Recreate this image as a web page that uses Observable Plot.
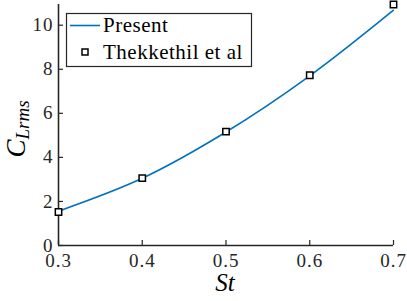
<!DOCTYPE html>
<html>
<head>
<meta charset="utf-8">
<script src="https://cdn.jsdelivr.net/npm/d3@7"></script>
<script src="https://cdn.jsdelivr.net/npm/@observablehq/plot@0.6"></script>
<style>
  html, body { margin: 0; padding: 0; background: #fff; }
  #chart svg { display: block; }
  #chart svg text { font-family: "Liberation Serif", "DejaVu Serif", serif; }
  #chart svg [aria-label="x-axis tick label"] text,
  #chart svg [aria-label="y-axis tick label"] text { letter-spacing: 1px; }
</style>
</head>
<body>
<div id="chart"></div>
<script>
// Data
const st = [0.3, 0.4, 0.5, 0.6, 0.7];
const present = [1.56, 3.05, 5.15, 7.7, 10.68];
const thekkethil = [1.52, 3.06, 5.17, 7.73, 10.94];
const xTicks = [0.3, 0.4, 0.5, 0.6, 0.7];
const yTicks = [0, 2, 4, 6, 8, 10];
const seriesNames = ["Present", "Thekkethil et al"];

const presentData = st.map((x, i) => ({x, y: present[i]}));
const refData = st.map((x, i) => ({x, y: thekkethil[i]}));

const font = "Liberation Serif";
const ink = "#262626";

const plot = Plot.plot({
  width: 407,
  height: 301,
  marginLeft: 58,
  marginRight: 14,
  marginTop: 4,
  marginBottom: 56,
  style: {fontFamily: font, fontSize: "19px", color: ink, background: "#fff"},
  x: {domain: [0.3, 0.7], ticks: xTicks, label: null},
  y: {domain: [0, 10.94], ticks: yTicks, label: null},
  marks: [
    Plot.axisX({ticks: xTicks, tickSize: -5, tickPadding: 13, tickFormat: d3.format(".1f"), fontSize: 19, fontFamily: font, stroke: ink, strokeWidth: 1.2, label: null}),
    Plot.axisY({ticks: yTicks, tickSize: -5, tickPadding: 10, fontSize: 19, fontFamily: font, stroke: ink, strokeWidth: 1.2, label: null}),
    Plot.ruleY([0], {stroke: ink, strokeWidth: 1.6}),
    Plot.ruleX([0.3], {stroke: ink, strokeWidth: 1.6}),
    Plot.line(presentData, {x: "x", y: "y", stroke: "#0072BD", strokeWidth: 1.6, curve: "catmull-rom"}),
    Plot.dot(refData, {x: "x", y: "y", symbol: "square", r: 3.6, stroke: "#000", strokeWidth: 1.5, fill: "#fff"})
  ]
});

document.getElementById("chart").appendChild(plot);

const svg = d3.select(plot);

// Y axis label C_{Lrms}
const yl = svg.append("text")
  .attr("transform", "translate(25,129) rotate(-90)")
  .attr("text-anchor", "middle")
  .attr("font-family", font)
  .attr("font-style", "italic")
  .attr("fill", "#000")
  .attr("font-size", 27);
yl.append("tspan").text("C");
yl.append("tspan").attr("font-size", 19).attr("dy", 4).text("Lrms");

// X axis label St
svg.append("text")
  .attr("x", 225).attr("y", 291)
  .attr("text-anchor", "middle")
  .attr("font-family", font)
  .attr("font-style", "italic")
  .attr("font-size", 25)
  .attr("fill", "#000")
  .text("St");

// Legend
const lg = svg.append("g").attr("font-family", font).attr("font-size", 21)
  .attr("text-anchor", "start").attr("letter-spacing", 0.5);
lg.append("rect").attr("x", 66.5).attr("y", 13.5).attr("width", 185).attr("height", 53)
  .attr("fill", "#fff").attr("stroke", ink).attr("stroke-width", 1.2);
lg.append("line").attr("x1", 70).attr("x2", 100).attr("y1", 25.5).attr("y2", 25.5)
  .attr("stroke", "#0072BD").attr("stroke-width", 1.6);
lg.append("text").attr("x", 103).attr("y", 32).attr("fill", "#000").text(seriesNames[0]);
lg.append("rect").attr("x", 82).attr("y", 49).attr("width", 6).attr("height", 6)
  .attr("fill", "#fff").attr("stroke", "#000").attr("stroke-width", 1.5);
lg.append("text").attr("x", 103).attr("y", 59).attr("fill", "#000").text(seriesNames[1]);
</script>
</body>
</html>
